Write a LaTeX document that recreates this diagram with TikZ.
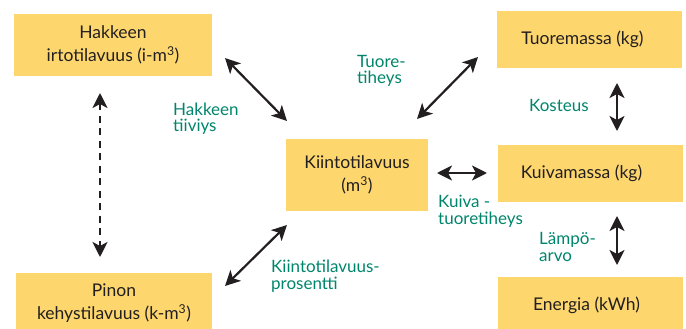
\documentclass[tikz,border=0pt]{standalone}
\usepackage{fontspec}
\setmainfont{Lato}
\usetikzlibrary{arrows.meta}
\definecolor{boxy}{RGB}{253,215,110}
\definecolor{labgreen}{RGB}{0,133,108}
\definecolor{ink}{RGB}{35,31,32}
\begin{document}
\begin{tikzpicture}[x=1pt,y=-1pt,
  box/.style={fill=boxy, inner sep=0pt, align=center, text=ink,
    font=\fontsize{17.5}{23}\selectfont},
  lab/.style={text=labgreen, align=left, inner sep=0pt, anchor=base west,
    font=\fontsize{17}{16.5}\selectfont},
  arr/.style={draw=ink, line width=2.2pt, {Stealth[length=15pt,width=15pt,inset=4pt]}-{Stealth[length=15pt,width=15pt,inset=4pt]}},
  darr/.style={arr, line width=2.6pt, dash pattern=on 7pt off 5.5pt}]
\useasboundingbox (0,0) rectangle (686,329);
% boxes
\node[box, minimum width=198pt, minimum height=62pt] (hi) at (113,45) {Hakkeen\\irtotilavuus (i-m\textsuperscript{3})};
\node[box, minimum width=196pt, minimum height=60pt] (pk) at (114,303) {Pinon\\kehystilavuus (k-m\textsuperscript{3})};
\node[box, minimum width=142pt, minimum height=72pt] (kt) at (357,175) {Kiintotilavuus\\(m\textsuperscript{3})};
\node[box, minimum width=185pt, minimum height=57pt] (tm) at (589.5,39.5) {Tuoremassa (kg)\hspace*{14pt}};
\node[box, minimum width=185pt, minimum height=57pt] (km) at (590.5,173.5) {Kuivamassa (kg)\hspace*{18pt}};
\node[box, minimum width=185pt, minimum height=56pt] (en) at (590.5,305) {Energia (kWh)\hspace*{8pt}};
% arrow ends
\coordinate (a1s) at (225,58);  \coordinate (a1e) at (287,121);
\coordinate (a2s) at (417,119); \coordinate (a2e) at (478,57);
\coordinate (a3s) at (437,173); \coordinate (a3e) at (487,173);
\coordinate (a4s) at (225,286); \coordinate (a4e) at (287,225);
\coordinate (a5s) at (617,83);  \coordinate (a5e) at (617,131);
\coordinate (a6s) at (617,216); \coordinate (a6e) at (617,265);
\coordinate (d1s) at (100,93);  \coordinate (d1e) at (100,257);
\draw[arr] (a1s) -- (a1e);
\draw[arr] (a2s) -- (a2e);
\draw[arr] (a3s) -- (a3e);
\draw[arr] (a4s) -- (a4e);
\draw[arr] (a5s) -- (a5e);
\draw[arr] (a6s) -- (a6e);
\draw[darr] (d1s) -- (d1e);
% labels (anchor = baseline of last line)
\node[lab] (l1) at (173,131.5) {Hakkeen\\tiiviys};
\node[lab] (l2) at (357,84) {Tuore-\\tiheys};
\node[lab] (l3) at (438,224) {Kuiva -\\tuoretiheys};
\node[lab] (l4) at (271,289) {Kiintotilavuus-\\prosentti};
\node[lab] (l5) at (529,111) {Kosteus};
\node[lab] (l6) at (539,261) {Lämpö-\\arvo};
\end{tikzpicture}
\end{document}
